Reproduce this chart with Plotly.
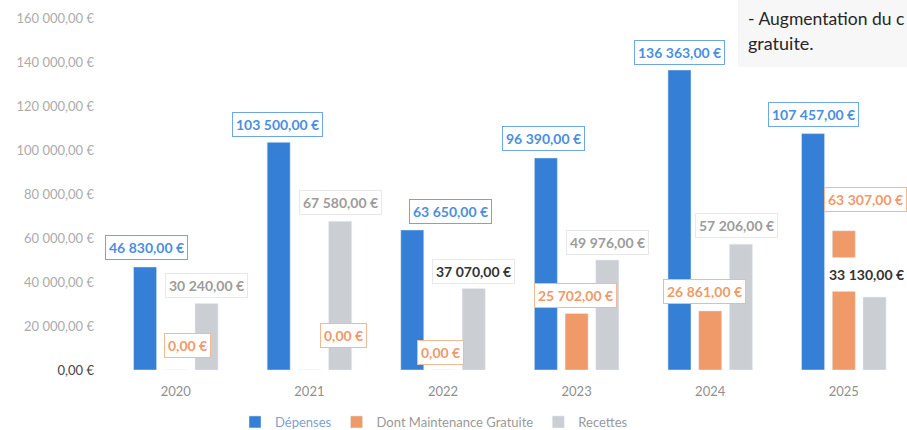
import plotly.graph_objects as go

years = ["2020", "2021", "2022", "2023", "2024", "2025"]
depenses = [46830, 103500, 63650, 96390, 136363, 107457]
maintenance = [0, 0, 0, 25702, 26861, 63307]
recettes = [30240, 67580, 37070, 49976, 57206, 33130]
y_ticks = [0, 20000, 40000, 60000, 80000, 100000, 120000, 140000, 160000]
note_lines = ["- Augmentation du c", "gratuite."]


def fmt(v):
    s = f"{v:,.2f}".replace(",", " ").replace(".", ",")
    return s + " €"


C_BLUE = "#3580d6"
C_ORANGE = "#ef9a68"
C_GRAY = "#cbced3"
FONT = "Lato"

fig = go.Figure()
fig.add_bar(x=years, y=depenses, name='<span style="color:#7f9fcc">Dépenses</span>',
            marker_color=C_BLUE)
fig.add_bar(x=years, y=maintenance, name="Dont Maintenance Gratuite",
            marker_color=C_ORANGE)
fig.add_bar(x=years, y=recettes, name="Recettes", marker_color=C_GRAY)

W, H = 907, 430
ML, MR, MT, MB = 109, 0, 18, 60
CAT_PX = 133.6
X_MAX = -0.5 + (W - ML - MR) / CAT_PX
BARGAP = 0.31
slot = CAT_PX * (1 - BARGAP) / 3

# label placement tweaks (pixels): (dx, dy) per series per year
blue_off = [(1, 19), (-1, 18), (38, 18), (-2, 19), (0, 18), (0, 19)]
orange_off = [(12, 25), (34, 35), (-3, 18), (-1, 18), (-6, 19), (22, 31)]
gray_off = [(0, 18), (0, 19), (0, 17), (0, 18), (-4, 19), (-8, 23)]

styles = {
    0: dict(color="#4a8fdf", border="#6ea6e6"),
    1: dict(color="#ef9a6a", border="#f3b894"),
    2: dict(color="#9c9c9c", border="#e8e8e8"),
}
dark_gray = {"2022", "2025"}

series = [(depenses, blue_off, -1), (maintenance, orange_off, 0), (recettes, gray_off, 1)]
for si, (vals, offs, k) in enumerate(series):
    for i, (yr, v) in enumerate(zip(years, vals)):
        st = styles[si]
        col = st["color"]
        if si == 2 and yr in dark_gray:
            col = "#333333"
        ann = dict(
            x=i, y=v, xref="x", yref="y",
            xshift=k * slot + offs[i][0], yshift=offs[i][1],
            text=f"<b>{fmt(v)}</b>", showarrow=False,
            font=dict(family=FONT, size=14, color=col),
            bgcolor="white", bordercolor=st["border"], borderwidth=1, borderpad=3,
            xanchor="center", yanchor="middle",
        )
        if si == 2 and yr == "2025":
            ann["height"] = 27
            ann["bordercolor"] = "rgba(255,255,255,0)"
        fig.add_annotation(**ann)

plot_w = W - ML - MR
plot_h = H - MT - MB


def px_x(p):
    return (p - ML) / plot_w


def px_y(p):
    return (H - MB - p) / plot_h


fig.add_shape(type="rect", xref="paper", yref="paper",
              x0=px_x(738), x1=px_x(912), y0=px_y(67), y1=px_y(-2),
              fillcolor="#f7f7f7", line_width=0, layer="below")
fig.add_annotation(xref="paper", yref="paper", x=px_x(746), y=px_y(18),
                   text=note_lines[0], showarrow=False, xanchor="left", yanchor="middle",
                   font=dict(family=FONT, size=17.5, color="#262626"))
fig.add_annotation(xref="paper", yref="paper", x=px_x(746), y=px_y(43),
                   text=note_lines[1], showarrow=False, xanchor="left", yanchor="middle",
                   font=dict(family=FONT, size=18, color="#262626"))

tick_text = []
for v in y_ticks:
    t = fmt(v)
    if v == 0:
        t = f'<span style="color:#444444">{t}</span>'
    tick_text.append(t)

fig.update_layout(
    width=W, height=H,
    margin=dict(l=ML, r=MR, t=MT, b=MB, autoexpand=False),
    plot_bgcolor="white", paper_bgcolor="white",
    barmode="group", bargap=BARGAP, bargroupgap=0.25,
    font=dict(family=FONT, color="#999999"),
    showlegend=True,
    legend=dict(orientation="h", x=px_x(434), xanchor="center",
                yref="container", y=(H - 422) / H, yanchor="middle",
                font=dict(family=FONT, size=13, color="#999999"),
                bgcolor="rgba(0,0,0,0)"),
    xaxis=dict(type="category", range=[-0.5, X_MAX], showgrid=False, zeroline=False,
               showline=False,
               tickfont=dict(family=FONT, size=13, color="#8f8f8f"),
               ticklabelstandoff=12),
    yaxis=dict(range=[0, 160000], tickvals=y_ticks, ticktext=tick_text,
               showgrid=False, zeroline=False, showline=False,
               tickfont=dict(family=FONT, size=13, color="#ababab"),
               ticklabelstandoff=14),
)

fig.write_html("out.html", config={"displayModeBar": False},
               post_script="document.body.style.margin='0';")
